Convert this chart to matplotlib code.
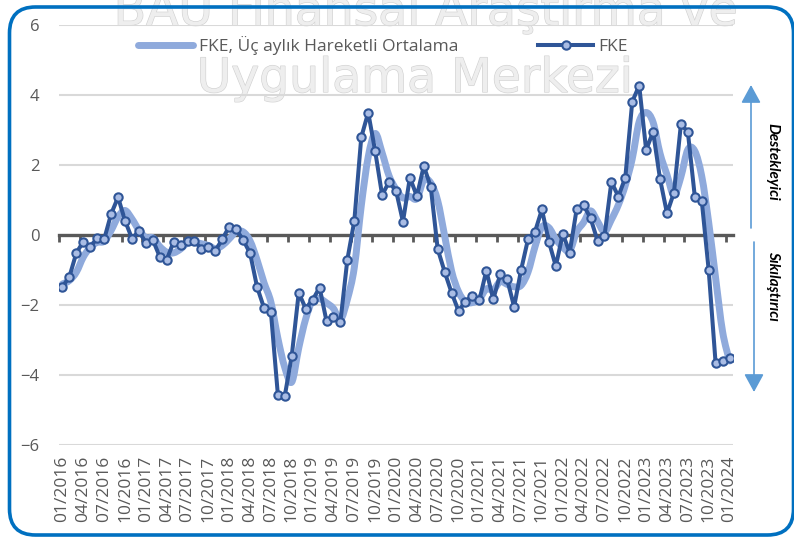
import matplotlib
matplotlib.use("Agg")  # no display in the sandbox

import matplotlib.pyplot as plt
import matplotlib.patheffects as pe
from matplotlib.lines import Line2D
from matplotlib.patches import FancyBboxPatch, PathPatch
from matplotlib.path import Path

plt.rcParams["font.family"] = ["Open Sans", "DejaVu Sans"]

# monthly categories 01/2016 .. 01/2024
months = [f"{m:02d}/{y}" for y in range(2016, 2025) for m in range(1, 13)][:97]

fke = [
    -1.48, -1.19, -0.51, -0.19, -0.35, -0.08, -0.12, 0.60, 1.08, 0.41, -0.10, 0.11,
    -0.22, -0.14, -0.62, -0.71, -0.19, -0.29, -0.17, -0.17, -0.40, -0.33, -0.45, -0.12,
    0.24, 0.16, -0.14, -0.52, -1.48, -2.08, -2.21, -4.57, -4.59, -3.45, -1.65, -2.10,
    -1.86, -1.50, -2.46, -2.33, -2.48, -0.70, 0.40, 2.79, 3.50, 2.40, 1.14, 1.52,
    1.27, 0.38, 1.64, 1.11, 1.97, 1.38, -0.40, -1.05, -1.65, -2.17, -1.90, -1.73,
    -1.86, -1.02, -1.84, -1.12, -1.27, -2.05, -1.00, -0.12, 0.09, 0.73, -0.19, -0.89,
    0.03, -0.50, 0.74, 0.85, 0.48, -0.16, -0.04, 1.52, 1.10, 1.64, 3.81, 4.27,
    2.43, 2.95, 1.60, 0.62, 1.21, 3.16, 2.95, 1.10, 0.98, -1.00, -3.67, -3.60,
    -3.52,
]

# three month moving average
fke_ma = [
    -1.40, -1.30, -1.06, -0.63, -0.35, -0.21, -0.18, 0.13, 0.52, 0.70, 0.46, 0.14,
    -0.07, -0.08, -0.33, -0.49, -0.51, -0.40, -0.22, -0.21, -0.25, -0.30, -0.39, -0.30,
    -0.11, 0.09, 0.09, -0.17, -0.71, -1.36, -1.92, -2.95, -3.79, -4.20, -3.23, -2.40,
    -1.87, -1.82, -1.94, -2.10, -2.42, -1.84, -0.93, 0.83, 2.23, 2.90, 2.35, 1.69,
    1.31, 1.06, 1.10, 1.04, 1.57, 1.49, 0.98, -0.02, -1.03, -1.62, -1.91, -1.93,
    -1.83, -1.54, -1.57, -1.33, -1.41, -1.48, -1.44, -1.06, -0.34, 0.23, 0.21, -0.12,
    -0.35, -0.45, 0.09, 0.36, 0.69, 0.39, 0.09, 0.44, 0.86, 1.42, 2.18, 3.24,
    3.50, 3.22, 2.33, 1.72, 1.14, 1.66, 2.44, 2.40, 1.68, 0.36, -1.23, -2.76,
    -3.60,
]

DARK = "#2f5597"
LIGHT = "#8faadc"
MARKER_FACE = "#a9bce4"
GREY = "#595959"
W, H = 794, 537


def smooth_path(xs, ys, t=1 / 6):
    # excel style smoothed line (catmull-rom as bezier segments)
    n = len(xs)
    verts = [(xs[0], ys[0])]
    codes = [Path.MOVETO]
    for i in range(n - 1):
        x0, y0 = (xs[i - 1], ys[i - 1]) if i > 0 else (xs[i], ys[i])
        x3, y3 = (xs[i + 2], ys[i + 2]) if i + 2 < n else (xs[i + 1], ys[i + 1])
        c1 = (xs[i] + (xs[i + 1] - x0) * t, ys[i] + (ys[i + 1] - y0) * t)
        c2 = (xs[i + 1] - (x3 - xs[i]) * t, ys[i + 1] - (y3 - ys[i]) * t)
        verts += [c1, c2, (xs[i + 1], ys[i + 1])]
        codes += [Path.CURVE4] * 3
    return Path(verts, codes)


fig = plt.figure(figsize=(W / 100, H / 100), dpi=100)

# watermark behind the plot (top line is cut by the image edge, as in the source)
wm = dict(family="DejaVu Sans", fontsize=34, color="#eeeeee", ha="center",
          va="baseline", zorder=-1,
          path_effects=[pe.withStroke(linewidth=0.9, foreground="#d2d2d2")])
fig.text(426 / W, 1 - 25 / H, "BAU Finansal Araştırma ve", **wm)
fig.text(415 / W, 1 - 92 / H, "Uygulama Merkezi", **wm)

ax = fig.add_axes([59 / W, 1 - 445 / H, 674 / W, 420 / H])
ax.set_facecolor("none")

x = list(range(len(months)))
ma_patch = PathPatch(smooth_path(x, fke_ma), facecolor="none", edgecolor=LIGHT,
                     lw=5, capstyle="round", joinstyle="round", zorder=3)
ax.add_patch(ma_patch)
ax.plot(x, fke, color=DARK, lw=2.9, marker="o", ms=6, mfc=MARKER_FACE,
        mec=DARK, mew=1.5, zorder=4, solid_joinstyle="round")

ax.set_xlim(-0.5, len(months) - 0.5)
ax.set_ylim(-6, 6)
ax.set_yticks(range(-6, 7, 2))
ax.yaxis.grid(True, color="#d9d9d9", lw=1.5)
ax.set_axisbelow(True)
for s in ax.spines.values():
    s.set_visible(False)
ax.tick_params(axis="y", length=0, pad=14, labelsize=12, labelcolor=GREY)

ax.set_xticks(x[::3])
ax.set_xticklabels(months[::3], rotation=90)
ax.tick_params(axis="x", length=0, pad=8, labelsize=12.5, labelcolor=GREY)

# category axis crosses at zero
zero_ax = ax.secondary_xaxis(0.5)
zero_ax.set_alignment("bottom")
zero_ax.set_xticks([b - 0.5 for b in range(0, len(months), 3)])
zero_ax.tick_params(axis="x", direction="out", length=5, width=2, color=GREY,
                    labelbottom=False, labeltop=False)
zero_ax.spines["bottom"].set_color(GREY)
zero_ax.spines["bottom"].set_linewidth(2.4)
zero_ax.set_zorder(2)

handles = [
    Line2D([], [], color=LIGHT, lw=5, solid_capstyle="round"),
    Line2D([], [], color=DARK, lw=2.9, marker="o", ms=6, mfc=MARKER_FACE,
           mec=DARK, mew=1.5),
]
fig.legend(handles, ["FKE, Üç aylık Hareketli Ortalama", "FKE"], loc="center",
           bbox_to_anchor=(383 / W, 1 - 46 / H), ncol=2, frameon=False,
           handlelength=3.2, handletextpad=0.3, columnspacing=4.6, numpoints=1,
           fontsize=12.5, labelcolor=GREY)

# overlay in pixel coords for border, arrows and side labels
ov = fig.add_axes([0, 0, 1, 1], zorder=10)
ov.set_xlim(0, W)
ov.set_ylim(H, 0)
ov.axis("off")
ov.set_facecolor("none")
ov.add_patch(FancyBboxPatch((9.5, 7), 784, 528,
                            boxstyle="round,pad=0,rounding_size=26",
                            facecolor="none", edgecolor="#0070c0", lw=2.6))
arrow = dict(arrowstyle="-|>,head_length=0.55,head_width=0.3", color="#5b9bd5",
             lw=1.2, mutation_scale=20, shrinkA=0, shrinkB=0)
ov.annotate("", xy=(751, 85), xytext=(751, 228), arrowprops=arrow)
ov.annotate("", xy=(754, 392), xytext=(754, 242), arrowprops=arrow)
side = dict(rotation=-90, ha="center", va="center", fontsize=11,
            fontstyle="italic", fontweight="bold", color="black",
            family=["Lato", "DejaVu Sans"])
ov.text(772, 162, "Destekleyici", **side)
ov.text(773, 286, "Sıkılaştırıcı", **side)

fig.savefig("out.png", dpi=100)
